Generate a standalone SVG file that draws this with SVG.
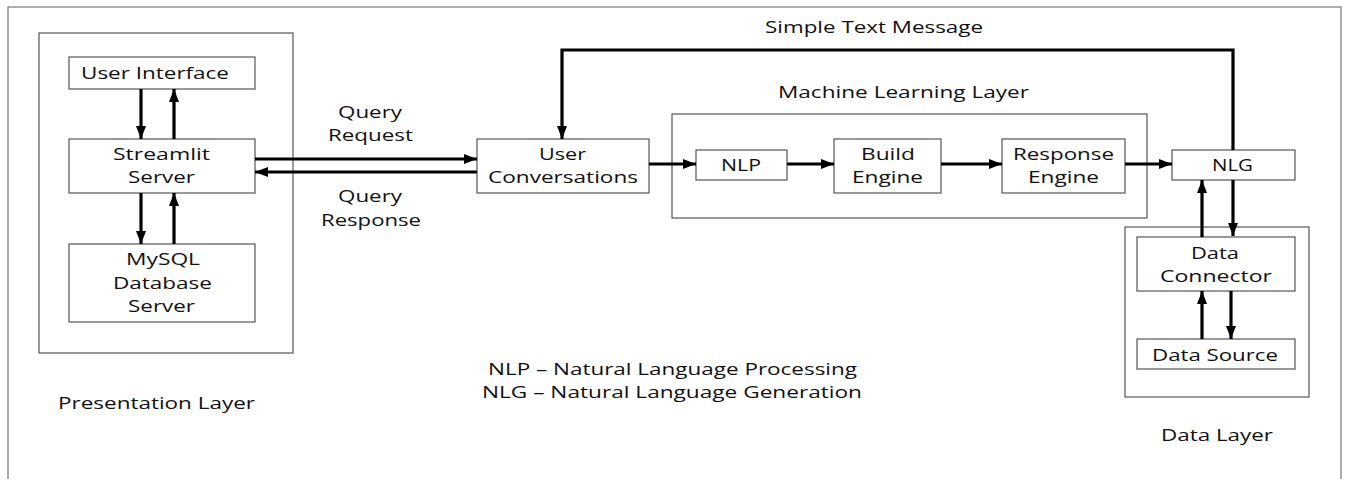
<svg xmlns="http://www.w3.org/2000/svg" width="1347" height="479" viewBox="0 0 1347 479">
<style>
.frame{fill:none;stroke:#777;stroke-width:1.2}
.box{fill:#fff;stroke:#555;stroke-width:1.2}
.layer{fill:none;stroke:#555;stroke-width:1.2}
text{font-family:"Open Sans","Liberation Sans",sans-serif;font-size:17px;fill:#111}
.c{fill:none;stroke:#000;stroke-width:3.2}
</style>
<defs>
<marker id="ah" markerUnits="userSpaceOnUse" markerWidth="13" markerHeight="10" refX="13" refY="5" orient="auto">
<path d="M0,0 L13,5 L0,10 Z" fill="#000"/>
</marker>
</defs>
<rect width="1347" height="479" fill="#fff"/>
<rect class="frame" x="8" y="7" width="1333" height="520"/>

<g id="presentation-layer">
<rect class="layer" x="39" y="33" width="254" height="320"/>
<text x="58" y="409" textLength="197" lengthAdjust="spacingAndGlyphs">Presentation Layer</text>
</g>
<g id="user-interface">
<rect class="box" x="69" y="57" width="186" height="32"/>
<text x="81" y="79" textLength="148" lengthAdjust="spacingAndGlyphs">User Interface</text>
</g>
<g id="streamlit-server">
<rect class="box" x="69" y="139" width="186" height="54"/>
<text x="113" y="160" textLength="97" lengthAdjust="spacingAndGlyphs">Streamlit</text>
<text x="128" y="183" textLength="67" lengthAdjust="spacingAndGlyphs">Server</text>
</g>
<g id="mysql-server">
<rect class="box" x="69" y="244" width="186" height="78"/>
<text x="126" y="265" textLength="74" lengthAdjust="spacingAndGlyphs">MySQL</text>
<text x="113" y="289" textLength="99" lengthAdjust="spacingAndGlyphs">Database</text>
<text x="128" y="312" textLength="67" lengthAdjust="spacingAndGlyphs">Server</text>
</g>

<g id="user-conversations">
<rect class="box" x="477" y="139" width="172" height="54"/>
<text x="539" y="160" textLength="47" lengthAdjust="spacingAndGlyphs">User</text>
<text x="488" y="183" textLength="150" lengthAdjust="spacingAndGlyphs">Conversations</text>
</g>

<g id="ml-layer">
<rect class="layer" x="672" y="114" width="475" height="104"/>
<text x="778" y="98" textLength="251" lengthAdjust="spacingAndGlyphs">Machine Learning Layer</text>
</g>
<g id="nlp">
<rect class="box" x="696" y="150" width="91" height="30"/>
<text x="721" y="171" textLength="40" lengthAdjust="spacingAndGlyphs">NLP</text>
</g>
<g id="build-engine">
<rect class="box" x="834" y="139" width="107" height="54"/>
<text x="861" y="160" textLength="54" lengthAdjust="spacingAndGlyphs">Build</text>
<text x="852" y="183" textLength="71" lengthAdjust="spacingAndGlyphs">Engine</text>
</g>
<g id="response-engine">
<rect class="box" x="1002" y="139" width="123" height="54"/>
<text x="1013" y="160" textLength="101" lengthAdjust="spacingAndGlyphs">Response</text>
<text x="1028" y="183" textLength="71" lengthAdjust="spacingAndGlyphs">Engine</text>
</g>
<g id="nlg">
<rect class="box" x="1172" y="150" width="123" height="30"/>
<text x="1212" y="171" textLength="41" lengthAdjust="spacingAndGlyphs">NLG</text>
</g>

<g id="data-layer">
<rect class="layer" x="1125" y="227" width="184" height="170"/>
<text x="1161" y="441" textLength="112" lengthAdjust="spacingAndGlyphs">Data Layer</text>
</g>
<g id="data-connector">
<rect class="box" x="1137" y="237" width="158" height="54"/>
<text x="1191" y="259" textLength="48" lengthAdjust="spacingAndGlyphs">Data</text>
<text x="1160" y="282" textLength="112" lengthAdjust="spacingAndGlyphs">Connector</text>
</g>
<g id="data-source">
<rect class="box" x="1137" y="339" width="158" height="30"/>
<text x="1152" y="361" textLength="126" lengthAdjust="spacingAndGlyphs">Data Source</text>
</g>

<g id="connectors">
<line class="c" x1="141" y1="89" x2="141" y2="139" marker-end="url(#ah)"/>
<line class="c" x1="174" y1="139" x2="174" y2="89" marker-end="url(#ah)"/>
<line class="c" x1="141" y1="193" x2="141" y2="244" marker-end="url(#ah)"/>
<line class="c" x1="174" y1="244" x2="174" y2="193" marker-end="url(#ah)"/>
<line class="c" x1="255" y1="159" x2="477" y2="159" marker-end="url(#ah)"/>
<line class="c" x1="477" y1="172" x2="255" y2="172" marker-end="url(#ah)"/>
<line class="c" x1="649" y1="164" x2="696" y2="164" marker-end="url(#ah)"/>
<line class="c" x1="787" y1="164" x2="834" y2="164" marker-end="url(#ah)"/>
<line class="c" x1="941" y1="164" x2="1002" y2="164" marker-end="url(#ah)"/>
<line class="c" x1="1125" y1="164" x2="1172" y2="164" marker-end="url(#ah)"/>
<polyline class="c" points="1233,150 1233,50 562,50 562,139" marker-end="url(#ah)"/>
<line class="c" x1="1233" y1="180" x2="1233" y2="236" marker-end="url(#ah)"/>
<line class="c" x1="1202" y1="237" x2="1202" y2="180" marker-end="url(#ah)"/>
<line class="c" x1="1202" y1="339" x2="1202" y2="291" marker-end="url(#ah)"/>
<line class="c" x1="1231" y1="291" x2="1231" y2="339" marker-end="url(#ah)"/>
</g>

<g id="labels">
<text x="765" y="33" textLength="218" lengthAdjust="spacingAndGlyphs">Simple Text Message</text>
<text x="338" y="118" textLength="64" lengthAdjust="spacingAndGlyphs">Query</text>
<text x="328" y="141" textLength="85" lengthAdjust="spacingAndGlyphs">Request</text>
<text x="338" y="202" textLength="64" lengthAdjust="spacingAndGlyphs">Query</text>
<text x="321" y="226" textLength="100" lengthAdjust="spacingAndGlyphs">Response</text>
<text x="488" y="375" textLength="369" lengthAdjust="spacingAndGlyphs">NLP – Natural Language Processing</text>
<text x="482" y="398" textLength="380" lengthAdjust="spacingAndGlyphs">NLG – Natural Language Generation</text>
</g>
</svg>
